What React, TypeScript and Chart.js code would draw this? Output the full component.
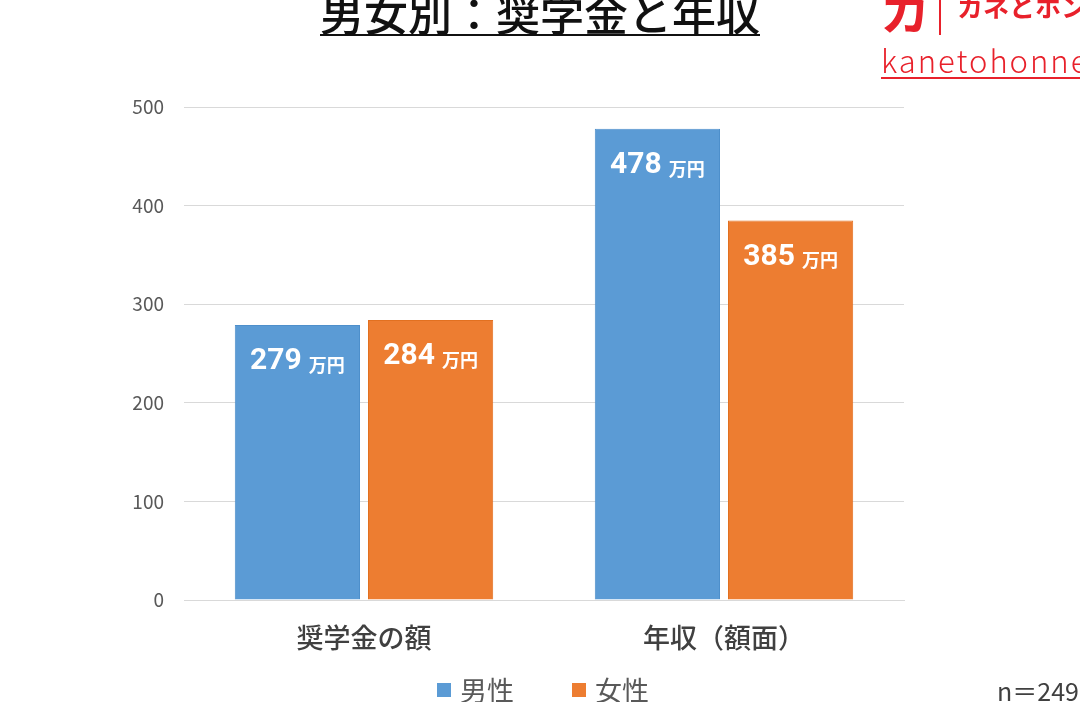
import React, { useEffect, useRef } from "react";
import { Chart, registerables } from "chart.js";

Chart.register(...registerables);

const categories = ["奨学金の額", "年収（額面）"];
const seriesNames = ["男性", "女性"];
const maleValues = [279, 478];
const femaleValues = [284, 385];
const seriesColors = ["#5B9BD5", "#ED7D31"];
const seriesBorders = ["#4E8FCB", "#E27020"];
const yTicks = [0, 100, 200, 300, 400, 500];
const unitLabel = "万円";
const titleText = "男女別：奨学金と年収";
const noteText = "n＝249";

const FONT = '"Noto Sans CJK JP", "Noto Sans", sans-serif';
const NUMFONT = 'Roboto, "Noto Sans CJK JP", sans-serif';

const labelPlugin = {
  id: "barLabels",
  afterDatasetsDraw(chart: any) {
    const ctx = chart.ctx;
    chart.data.datasets.forEach((ds: any, di: number) => {
      const meta = chart.getDatasetMeta(di);
      meta.data.forEach((bar: any, i: number) => {
        const v = String(ds.data[i]);
        ctx.save();
        ctx.fillStyle = "#FFFFFF";
        ctx.textBaseline = "middle";
        const numFont = `bold 30px ${NUMFONT}`;
        const unitFont = `bold 18px ${FONT}`;
        ctx.font = numFont;
        const w1 = ctx.measureText(v).width;
        ctx.font = unitFont;
        const w2 = ctx.measureText(unitLabel).width;
        const gap = 7;
        const total = w1 + gap + w2;
        const x0 = bar.x - total / 2;
        const y = bar.y + 37;
        ctx.textAlign = "left";
        ctx.font = numFont;
        ctx.fillText(v, x0, y);
        ctx.font = unitFont;
        ctx.fillText(unitLabel, x0 + w1 + gap, y + 3);
        ctx.restore();
      });
    });
  },
};

export default function App() {
  const ref = useRef<HTMLCanvasElement | null>(null);
  useEffect(() => {
    document.body.style.margin = "0";
    if (!ref.current) return;
    const chart = new Chart(ref.current, {
      type: "bar",
      data: {
        labels: categories,
        datasets: seriesNames.map((name, k) => ({
          label: name,
          data: k === 0 ? maleValues : femaleValues,
          backgroundColor: seriesColors[k],
          borderColor: seriesBorders[k],
          borderWidth: 1,
          categoryPercentage: 0.74,
          barPercentage: 0.94,
        })),
      },
      options: {
        responsive: false,
        animation: false,
        devicePixelRatio: 1,
        layout: { padding: { left: 0, top: 107, right: 176, bottom: 0 } },
        plugins: {
          legend: { display: false },
          tooltip: { enabled: false },
          title: { display: false },
        },
        scales: {
          x: {
            grid: { display: false, drawTicks: false },
            border: { display: true, color: "#D9D9D9", width: 1 },
            ticks: {
              color: "#404040",
              font: { family: FONT, size: 27, weight: 500 },
              padding: 22,
            },
            afterFit: (s: any) => {
              s.height = 102;
            },
          },
          y: {
            min: 0,
            max: 500,
            afterBuildTicks: (s: any) => {
              s.ticks = yTicks.map((v) => ({ value: v }));
            },
            grid: { color: "#D9D9D9", drawTicks: false, lineWidth: 1 },
            border: { display: false },
            ticks: {
              color: "#595959",
              font: { family: FONT, size: 19 },
              padding: 20,
            },
            afterFit: (s: any) => {
              s.width = 184;
            },
          },
        },
      },
      plugins: [labelPlugin],
    });
    return () => chart.destroy();
  }, []);

  return (
    <div
      style={{
        position: "fixed",
        left: 0,
        top: 0,
        width: 1080,
        height: 702,
        overflow: "hidden",
        background: "#FFFFFF",
        fontFamily: FONT,
      }}
    >
      <canvas ref={ref} width={1080} height={702} style={{ position: "absolute", left: 0, top: 0 }} />
      <div
        style={{
          position: "absolute",
          left: 0,
          width: 1080,
          top: -14,
          textAlign: "center",
          fontSize: 44,
          fontWeight: 500,
          color: "#111",
          lineHeight: "52px",
          whiteSpace: "nowrap",
        }}
      >
        <span style={{ textDecoration: "underline", textDecorationThickness: 2, textUnderlineOffset: 3 }}>{titleText}</span>
      </div>
      <div
        style={{
          position: "absolute",
          left: 880,
          top: -18,
          fontSize: 50,
          fontWeight: 700,
          color: "#E8212B",
          lineHeight: "52px",
        }}
      >
        カ
      </div>
      <div style={{ position: "absolute", left: 939, top: 0, width: 2, height: 35, background: "#E8212B" }} />
      <div
        style={{
          position: "absolute",
          left: 957,
          top: -9,
          fontSize: 26,
          fontWeight: 700,
          color: "#E8212B",
          lineHeight: "30px",
          whiteSpace: "nowrap",
        }}
      >
        カネとホンネ
      </div>
      <div
        style={{
          position: "absolute",
          left: 881,
          top: 42,
          fontSize: 31,
          fontWeight: 300,
          color: "#E8212B",
          lineHeight: "36px",
          whiteSpace: "nowrap",
          textDecoration: "underline",
          textDecorationThickness: 2,
          textUnderlineOffset: 4,
          letterSpacing: 2,
        }}
      >
        kanetohonne.com
      </div>
      {seriesNames.map((n, i) => (
        <div
          key={n}
          style={{
            position: "absolute",
            left: 437 + i * 135,
            top: 673,
            display: "flex",
            alignItems: "center",
            whiteSpace: "nowrap",
          }}
        >
          <span style={{ width: 14, height: 14, background: seriesColors[i], display: "inline-block", marginRight: 9 }} />
          <span style={{ fontSize: 27, color: "#595959", lineHeight: "34px" }}>{n}</span>
        </div>
      ))}
      <div
        style={{
          position: "absolute",
          left: 997,
          top: 674,
          fontSize: 25,
          color: "#404040",
          lineHeight: "32px",
          whiteSpace: "nowrap",
        }}
      >
        {noteText}
      </div>
    </div>
  );
}
